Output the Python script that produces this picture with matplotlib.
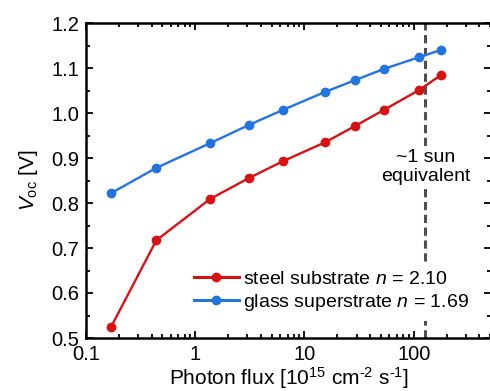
import matplotlib
matplotlib.use("Agg")
import matplotlib.pyplot as plt
import numpy as np

# photon flux [1e15 cm^-2 s^-1] and Voc [V]
flux = [0.17, 0.44, 1.37, 3.08, 6.37, 15.5, 29.0, 53.5, 112, 177]
voc_steel = [0.525, 0.717, 0.809, 0.855, 0.893, 0.935, 0.971, 1.007, 1.051, 1.084]
voc_glass = [0.822, 0.878, 0.933, 0.973, 1.007, 1.047, 1.073, 1.098, 1.124, 1.140]
one_sun = 128
labels = ["steel substrate $n$ = 2.10", "glass superstrate $n$ = 1.69"]

plt.rcParams['font.family'] = ['Liberation Sans', 'DejaVu Sans']
plt.rcParams['mathtext.fontset'] = 'custom'
plt.rcParams['mathtext.rm'] = 'Liberation Sans'
plt.rcParams['mathtext.it'] = 'Liberation Sans:italic'

red = '#d81212'
blue = '#2274df'

dpi = 100
fig = plt.figure(figsize=(4.9, 3.91), dpi=dpi)
ax = fig.add_axes([86 / 490, 53 / 391, 405 / 490, 315 / 391])

ax.plot(flux, voc_steel, '-o', color=red, lw=1.7, ms=6, label=labels[0])
ax.plot(flux, voc_glass, '-o', color=blue, lw=1.7, ms=6, label=labels[1])
ax.axvline(one_sun, color='#4f4f4f', ls=(0, (2.7, 1.5)), lw=2.2, zorder=1)
ax.text(one_sun, 0.881, "~1 sun\nequivalent", ha='center', va='center',
        fontsize=14, linespacing=1.15,
        bbox=dict(facecolor='white', edgecolor='none', pad=1))

ax.set_xscale('log')
ax.set_xlim(0.1, 510)
ax.set_ylim(0.5, 1.2)
ax.set_xticks([0.1, 1, 10, 100])
ax.set_xticklabels(['0.1', '1', '10', '100'])
ax.set_yticks(np.arange(0.5, 1.21, 0.1))
ax.set_yticks(np.arange(0.55, 1.2, 0.1), minor=True)
ax.tick_params(which='both', direction='in', top=True, right=True, labelsize=14.5, width=1.3)
ax.tick_params(which='major', length=5, pad=5)
ax.tick_params(which='minor', length=3)
for s in ax.spines.values():
    s.set_linewidth(1.8)

ax.set_ylabel("$V_{\\mathrm{oc}}$ [V]", fontsize=15, labelpad=8)
ax.set_xlabel("Photon flux [10$^{15}$ cm$^{\\text{-}2}$ s$^{\\text{-}1}$]", fontsize=15, labelpad=1)

leg = ax.legend(loc='center left', bbox_to_anchor=(0.247, 0.147), frameon=True,
                fontsize=14, handlelength=2.3, handletextpad=0.25, labelspacing=0.2,
                borderaxespad=0, borderpad=0.4)
leg.get_frame().set_facecolor('white')
leg.get_frame().set_edgecolor('none')
leg.get_frame().set_alpha(1)
for h in leg.get_lines():
    h.set_linewidth(2.2)

plt.savefig("out.png", dpi=dpi)
plt.close(fig)
